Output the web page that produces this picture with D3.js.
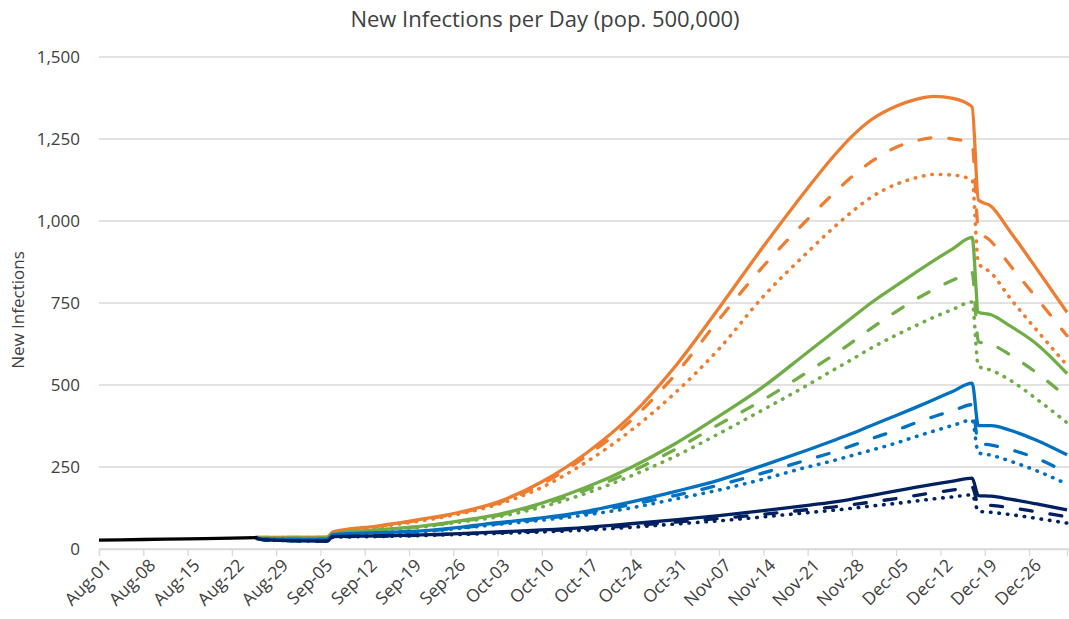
<!DOCTYPE html>
<html>
<head>
<meta charset="utf-8">
<script src="https://cdn.jsdelivr.net/npm/d3@7"></script>
<style>
body { margin: 0; background: #fff; }
text { font-family: "Open Sans", sans-serif; fill: #404040; }
</style>
</head>
<body>
<svg id="chart" width="1069" height="619"></svg>
<script>
// ---------------------------//
//            DATA            //
// ---------------------------//
const actualDates  = ["2020-08-01", "2020-08-08", "2020-08-15", "2020-08-22", "2020-08-26"];
const actualValues = [27, 29, 31, 33, 35];

const keyDates = ["2020-08-26", "2020-08-27", "2020-09-06", "2020-09-07", "2020-09-14", "2020-09-21",
                  "2020-09-27", "2020-10-03", "2020-10-10", "2020-10-17", "2020-10-24", "2020-10-31",
                  "2020-11-07", "2020-11-14", "2020-11-21", "2020-11-25", "2020-11-28", "2020-12-01",
                  "2020-12-05", "2020-12-08", "2020-12-11", "2020-12-14", "2020-12-17", "2020-12-18",
                  "2020-12-20", "2020-12-23", "2020-12-27", "2021-01-01"];

const orangeSolid  = [35, 35, 36, 52, 70, 91, 112, 143, 205, 292, 405, 555, 735, 922, 1100, 1195, 1258, 1308, 1350, 1370, 1380, 1374, 1348, 1064, 1045, 968, 860, 722];
const orangeDashed = [35, 35, 35, 51, 69, 89, 110, 140, 198, 283, 390, 530, 700, 862, 1005, 1082, 1135, 1180, 1225, 1244, 1254, 1250, 1235, 975, 938, 865, 770, 650];
const orangeDotted = [35, 35, 35, 50, 67, 86, 107, 136, 188, 265, 360, 475, 610, 770, 905, 978, 1028, 1072, 1112, 1131, 1142, 1140, 1125, 872, 842, 765, 672, 560];

const greenSolid   = [34, 33, 33, 47, 58, 70, 86, 105, 140, 188, 248, 320, 405, 495, 600, 660, 705, 750, 803, 842, 880, 916, 950, 722, 714, 680, 628, 535];
const greenDashed  = [34, 33, 33, 46, 57, 69, 84, 102, 135, 180, 235, 303, 380, 455, 540, 590, 630, 672, 724, 760, 792, 820, 843, 632, 624, 592, 540, 462];
const greenDotted  = [34, 33, 33, 45, 56, 67, 82, 98, 128, 170, 222, 282, 352, 425, 500, 545, 578, 612, 652, 680, 707, 731, 753, 557, 545, 515, 460, 385];

const blueSolid    = [33, 30, 29, 44, 50, 55, 66, 80, 95, 115, 143, 175, 210, 255, 302, 330, 352, 376, 407, 431, 456, 481, 506, 376, 376, 362, 333, 287];
const blueDashed   = [33, 30, 29, 43, 49, 54, 64, 77, 92, 110, 135, 163, 195, 232, 272, 295, 315, 336, 362, 384, 404, 422, 440, 322, 317, 303, 278, 232];
const blueDotted   = [33, 29, 28, 42, 48, 53, 63, 75, 88, 104, 125, 152, 180, 213, 250, 269, 285, 301, 323, 342, 360, 377, 393, 293, 286, 268, 240, 198];

const navySolid    = [32, 28, 24, 38, 40, 43, 47, 52, 58, 66, 77, 89, 102, 117, 133, 143, 152, 163, 177, 188, 198, 207, 216, 163, 161, 152, 138, 119];
const navyDashed   = [32, 28, 24, 37, 39, 42, 46, 50, 55, 62, 71, 82, 93, 106, 120, 128, 135, 143, 154, 163, 172, 180, 189, 136, 133, 126, 114, 98];
const navyDotted   = [32, 28, 24, 36, 38, 41, 44, 48, 52, 58, 66, 76, 86, 98, 111, 118, 124, 131, 139, 146, 153, 159, 165, 115, 112, 105, 94, 79];

const tickDates = ["2020-08-01", "2020-08-08", "2020-08-15", "2020-08-22", "2020-08-29", "2020-09-05",
                   "2020-09-12", "2020-09-19", "2020-09-26", "2020-10-03", "2020-10-10", "2020-10-17",
                   "2020-10-24", "2020-10-31", "2020-11-07", "2020-11-14", "2020-11-21", "2020-11-28",
                   "2020-12-05", "2020-12-12", "2020-12-19", "2020-12-26"];
const yTicks = [0, 250, 500, 750, 1000, 1250, 1500];

// ---------------------------//
//          LAYOUT            //
// ---------------------------//
const MARGIN = { left: 99, right: 2, top: 57, bottom: 70 };
const WIDTH = 1069, HEIGHT = 619;

const parse = d3.utcParse("%Y-%m-%d");
const fmt = d3.utcFormat("%b-%d");

const svg = d3.select("#chart");

const xScale = d3.scaleUtc()
    .domain([parse("2020-08-01"), parse("2021-01-01")])
    .range([MARGIN.left, WIDTH - MARGIN.right]);

const yScale = d3.scaleLinear()
    .domain([0, 1500])
    .range([HEIGHT - MARGIN.bottom, MARGIN.top]);

// gridlines
svg.append("g")
    .selectAll("line")
    .data(yTicks)
    .enter()
    .append("line")
    .attr("x1", MARGIN.left)
    .attr("x2", WIDTH)
    .attr("y1", d => yScale(d))
    .attr("y2", d => yScale(d))
    .attr("stroke", "#d9d9d9")
    .attr("stroke-width", 1.3);

// y axis labels
const yAxis = svg.append("g")
    .attr("transform", `translate(${MARGIN.left - 19},0)`)
    .call(d3.axisLeft(yScale).tickValues(yTicks).tickSize(0).tickPadding(0).tickFormat(d3.format(",")));
yAxis.select(".domain").remove();
yAxis.selectAll("text")
    .style("font-size", "17px")
    .style("font-family", "Open Sans")
    .attr("fill", "#404040");

// x axis
const xAxis = svg.append("g")
    .attr("transform", `translate(0,${yScale(0)})`)
    .call(d3.axisBottom(xScale).tickValues(tickDates.map(parse)).tickSize(7).tickFormat(fmt));
xAxis.select(".domain").attr("stroke", "#d9d9d9").attr("stroke-width", 1.3);
xAxis.selectAll(".tick line").attr("stroke", "#d9d9d9").attr("stroke-width", 1.3);
xAxis.selectAll("text")
    .style("font-size", "17.5px")
    .style("font-family", "Open Sans")
    .attr("fill", "#404040")
    .attr("text-anchor", "end")
    .attr("dy", "0.35em")
    .attr("transform", "translate(7,6) rotate(-45)")
    .attr("x", -4)
    .attr("y", 6);

// ---------------------------//
//           LINES            //
// ---------------------------//
const series = [
    { values: orangeSolid,  color: "#ED7D31", style: "solid" },
    { values: orangeDashed, color: "#ED7D31", style: "dash" },
    { values: orangeDotted, color: "#ED7D31", style: "dot" },
    { values: greenSolid,   color: "#70AD47", style: "solid" },
    { values: greenDashed,  color: "#70AD47", style: "dash" },
    { values: greenDotted,  color: "#70AD47", style: "dot" },
    { values: blueSolid,    color: "#0070C0", style: "solid" },
    { values: blueDashed,   color: "#0070C0", style: "dash" },
    { values: blueDotted,   color: "#0070C0", style: "dot" },
    { values: navySolid,    color: "#002060", style: "solid" },
    { values: navyDashed,   color: "#002060", style: "dash" },
    { values: navyDotted,   color: "#002060", style: "dot" }
];

const line = d3.line()
    .x(d => xScale(d.date))
    .y(d => yScale(d.value))
    .curve(d3.curveMonotoneX);

const keyParsed = keyDates.map(parse);

svg.append("g")
    .selectAll("path")
    .data(series)
    .enter()
    .append("path")
    .attr("d", s => line(s.values.map((v, i) => ({ date: keyParsed[i], value: v }))))
    .attr("fill", "none")
    .attr("stroke", s => s.color)
    .attr("stroke-width", s => s.style === "dot" ? 3.6 : 3.3)
    .attr("stroke-linecap", s => s.style === "solid" ? "butt" : "round")
    .attr("stroke-linejoin", "round")
    .attr("stroke-dasharray", s => s.style === "dash" ? "12,18" : s.style === "dot" ? "0.5,8" : null);

svg.append("path")
    .attr("d", line(actualValues.map((v, i) => ({ date: parse(actualDates[i]), value: v }))))
    .attr("fill", "none")
    .attr("stroke", "#000")
    .attr("stroke-width", 3.3);

// ---------------------------//
//           TITLES           //
// ---------------------------//
svg.append("text")
    .attr("x", 545)
    .attr("y", 27)
    .attr("text-anchor", "middle")
    .style("font-size", "22px")
    .text("New Infections per Day (pop. 500,000)");

svg.append("text")
    .attr("transform", `translate(24,310) rotate(-90)`)
    .attr("text-anchor", "middle")
    .style("font-size", "17px")
    .text("New Infections");
</script>
</body>
</html>
